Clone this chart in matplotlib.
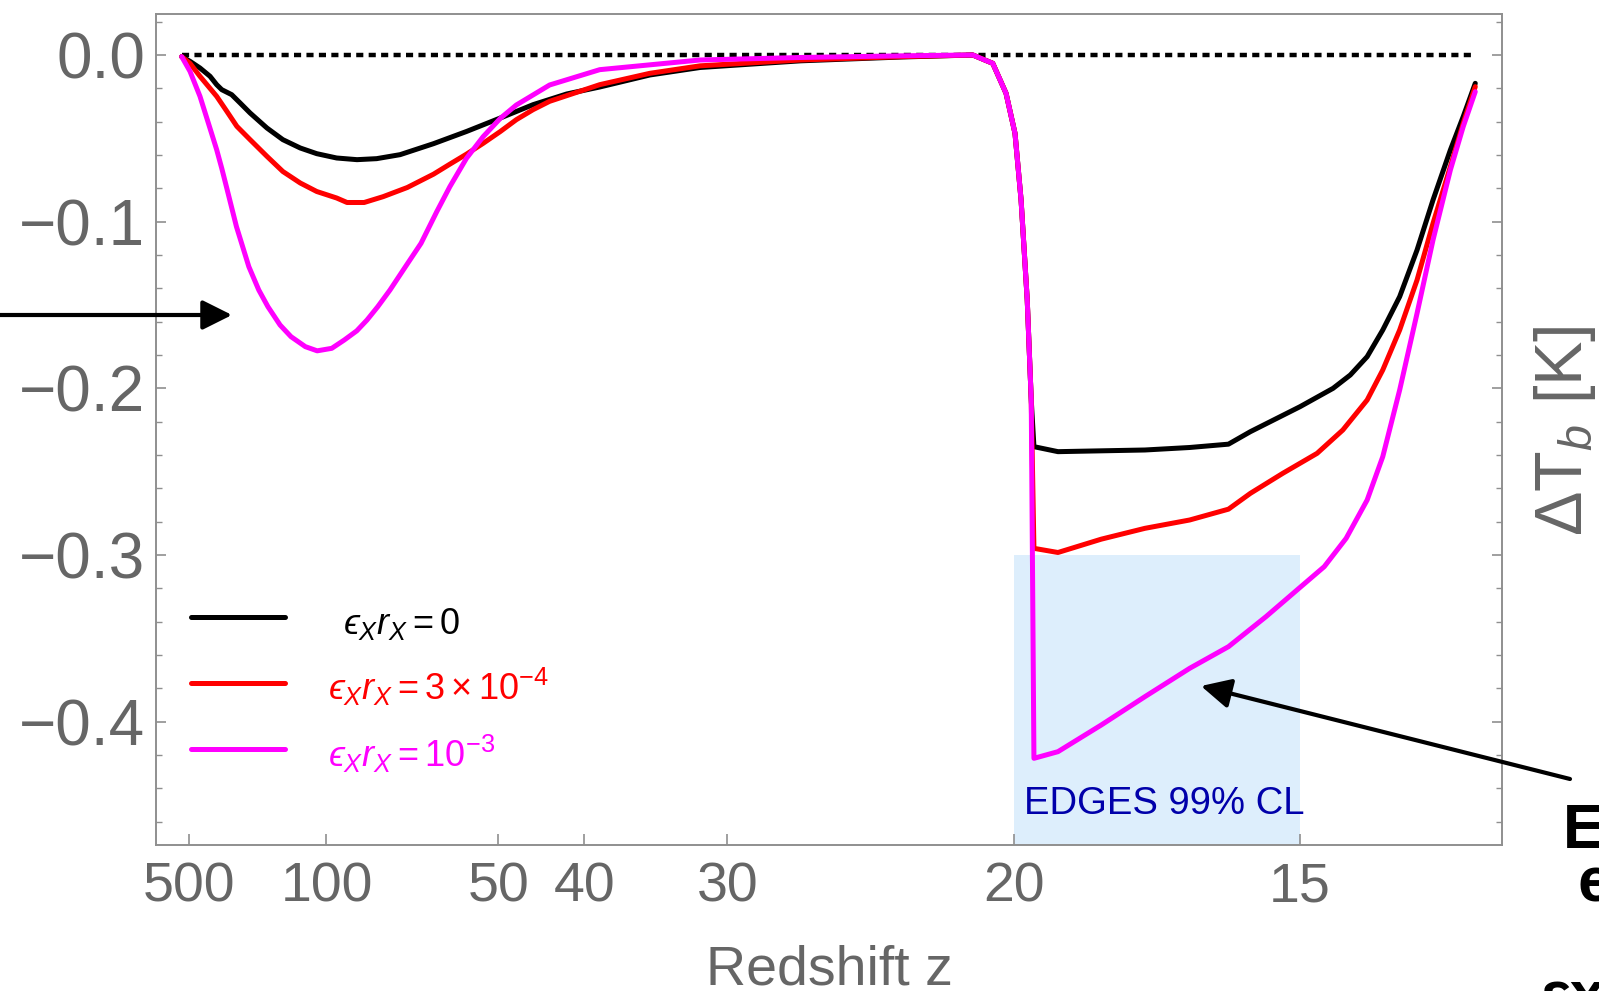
import matplotlib
matplotlib.use("Agg")
import matplotlib.pyplot as plt
import numpy as np
from matplotlib.patches import Rectangle
from matplotlib.ticker import MultipleLocator

plt.rcParams['font.family'] = ['Liberation Sans', 'DejaVu Sans']
plt.rcParams['mathtext.fontset'] = 'custom'
plt.rcParams['mathtext.rm'] = 'Liberation Sans'
plt.rcParams['mathtext.it'] = 'Liberation Sans:italic'
plt.rcParams['mathtext.bf'] = 'Liberation Sans:bold'
plt.rcParams['mathtext.fallback'] = 'stixsans'

# ---- data (redshift z, Delta T_b in K) ----
z_black = [635, 486, 379, 310, 277, 256, 223, 201, 180, 153, 134, 118, 106, 94.4,
           84.9, 77.4, 70.0, 61.6, 55.1, 49.7, 45.4, 41.7, 38.6, 34.7, 31.5, 26.6,
           23.0, 21.0, 20.5, 20.18, 19.97, 19.83, 19.69, 19.6, 19.54, 19.02, 18.15,
           17.35, 16.6, 16.0, 15.68, 15.0, 14.58, 14.37, 14.17, 13.99, 13.80, 13.61,
           13.44, 13.26, 13.13, 13.01]
dT_black = [-0.001, -0.0038, -0.0078, -0.0128, -0.0178, -0.0208, -0.0238, -0.0288,
            -0.0348, -0.0438, -0.0508, -0.0558, -0.0592, -0.0618, -0.0628, -0.0622,
            -0.0598, -0.0532, -0.0459, -0.0378, -0.0298, -0.0234, -0.0192, -0.012,
            -0.0075, -0.0035, -0.0012, 0.0, -0.005, -0.023, -0.047, -0.087, -0.147,
            -0.207, -0.235, -0.238, -0.2375, -0.237, -0.2355, -0.2335, -0.226,
            -0.211, -0.200, -0.192, -0.181, -0.165, -0.145, -0.117, -0.087, -0.057,
            -0.037, -0.017]

z_red = [635, 486, 379, 277, 238, 209, 180, 153, 134, 118, 106, 94.4, 89.3, 82.0,
         75.2, 68.0, 61.6, 58.2, 55.1, 52.3, 49.7, 47.5, 45.4, 43.5, 40.9, 38.6,
         34.7, 31.5, 26.6, 23.0, 21.0, 20.5, 20.18, 19.97, 19.83, 19.69, 19.6, 19.54,
         19.02, 18.15, 17.35, 16.6, 16.0, 15.68, 15.23, 14.78, 14.46, 14.17, 13.99,
         13.80, 13.61, 13.44, 13.26, 13.13, 13.01]
dT_red = [-0.001, -0.005, -0.0128, -0.0248, -0.0338, -0.0428, -0.0508, -0.0608,
          -0.0699, -0.0768, -0.0819, -0.0858, -0.0885, -0.0885, -0.085, -0.0795,
          -0.0715, -0.0655, -0.0595, -0.053, -0.0459, -0.0388, -0.0328, -0.0278,
          -0.0228, -0.0178, -0.011, -0.0065, -0.003, -0.001, 0.0, -0.005, -0.023,
          -0.047, -0.087, -0.147, -0.207, -0.296, -0.2985, -0.2905, -0.284, -0.279,
          -0.2725, -0.263, -0.251, -0.239, -0.225, -0.207, -0.189, -0.165, -0.135,
          -0.101, -0.067, -0.041, -0.019]

z_mag = [635, 486, 379, 320, 277, 256, 238, 210, 182.4, 165, 151.7, 137, 126, 114,
         105.7, 97, 90.6, 85, 80.9, 77, 73.0, 68.5, 64.5, 60.9, 58.2, 55.1, 52.3,
         49.7, 47.5, 43.5, 38.6, 31.5, 26.6, 23.0, 21.0, 20.5, 20.18, 19.97, 19.83,
         19.69, 19.6, 19.54, 19.02, 18.15, 17.35, 16.6, 16.0, 15.46, 15.04, 14.69,
         14.42, 14.17, 13.99, 13.80, 13.61, 13.44, 13.26, 13.13, 13.01]
dT_mag = [-0.001, -0.0098, -0.0248, -0.0408, -0.0568, -0.068, -0.080, -0.103,
          -0.127, -0.141, -0.151, -0.162, -0.169, -0.175, -0.1775, -0.176, -0.171,
          -0.1655, -0.159, -0.151, -0.141, -0.127, -0.113, -0.094, -0.079, -0.062,
          -0.049, -0.038, -0.030, -0.018, -0.0088, -0.003, -0.0015, -0.0005, 0.0,
          -0.005, -0.023, -0.047, -0.087, -0.147, -0.207, -0.422, -0.418, -0.402,
          -0.385, -0.368, -0.355, -0.337, -0.321, -0.307, -0.290, -0.267, -0.241,
          -0.201, -0.155, -0.111, -0.069, -0.043, -0.022]

labels = ["$\\ \\,\u03f5_X r_X=0$",
          "$\u03f5_X r_X=3\\times10^{-4}$",
          "$\u03f5_X r_X=10^{-3}$"]
colors = ["black", "#ff0000", "#ff00ff"]

z_ticks = [500, 100, 50, 40, 30, 20, 15]
z_tick_labels = ["500", "100", "50", "40", "30", "20", "15"]
y_ticks = [0.0, -0.1, -0.2, -0.3, -0.4]
y_tick_labels = ["0.0", "\u22120.1", "\u22120.2", "\u22120.3", "\u22120.4"]

edges_z = [20, 15]
edges_top = -0.3

grey = "#666666"
frame = "#8f8f8f"

fig = plt.figure(figsize=(15.99, 9.91), dpi=100)
ax = fig.add_axes([0.09756, 0.14733, 0.84178, 0.83855])

# x axis is linear in 1/z
ax.add_patch(Rectangle((1 / edges_z[0], -0.6), 1 / edges_z[1] - 1 / edges_z[0],
                       edges_top + 0.6, facecolor="#ddeefc", edgecolor="none", zorder=0))
ax.text(1 / edges_z[0] + 0.0006, -0.4555, "EDGES 99% CL", color="#0000aa",
        fontsize=27.5, va="baseline", ha="left", zorder=1)

ax.plot([1 / z_black[0], 1 / z_black[-1]], [0, 0], color="black", lw=3.2,
        linestyle=(0, (1.6, 1.2)), zorder=2)

lines = []
for z, dT, c in [(z_black, dT_black, colors[0]), (z_red, dT_red, colors[1]),
                 (z_mag, dT_mag, colors[2])]:
    ln, = ax.plot(1 / np.array(z), dT, color=c, lw=3.6, zorder=3,
                  solid_joinstyle="round", solid_capstyle="round")
    lines.append(ln)

ax.set_xlim(0.000079, 0.07842)
ax.set_ylim(-0.474, 0.0246)

ax.set_xticks([1 / z for z in z_ticks])
ax.set_xticklabels(z_tick_labels)
ax.set_yticks(y_ticks)
ax.set_yticklabels(y_tick_labels)
ax.yaxis.set_minor_locator(MultipleLocator(0.02))

ax.tick_params(axis="x", which="both", direction="in", top=False, bottom=True,
               length=8, width=1.2, color=frame, labelsize=40, labelcolor=grey, pad=12)
ax.tick_params(axis="y", which="major", direction="in", left=True, right=True,
               length=7, width=1.2, color=frame, labelsize=46, labelcolor=grey, pad=8)
ax.tick_params(axis="y", which="minor", direction="in", left=True, right=True,
               length=4.5, width=1.0, color=frame)
for s in ax.spines.values():
    s.set_color(frame)
    s.set_linewidth(1.4)

ax.set_xlabel("Redshift z", fontsize=40, color=grey, labelpad=22)

fig.text(1582 / 1599, 1 - 431 / 991, "\u0394T$_b$ [K]", rotation=90,
         rotation_mode="anchor", ha="center", va="baseline", fontsize=48, color=grey)

ax.legend(lines, labels, loc="upper left", bbox_to_anchor=(191 / 1599, 1 - 599 / 991),
          bbox_transform=fig.transFigure, frameon=False, fontsize=26,
          handlelength=2.6, handleheight=1.6, handletextpad=1.2, labelspacing=0.55,
          borderpad=0, borderaxespad=0, labelcolor="linecolor")

arrow = dict(arrowstyle="-|>", lw=3, color="black", mutation_scale=45,
             shrinkA=0, shrinkB=0)
ax.annotate("", xy=(232, 991 - 315), xycoords="figure pixels",
            xytext=(-20, 991 - 315), textcoords="figure pixels",
            arrowprops=arrow, annotation_clip=False)
ax.annotate("", xy=(1201, 991 - 686), xycoords="figure pixels",
            xytext=(1570, 991 - 779), textcoords="figure pixels",
            arrowprops=arrow, annotation_clip=False)

fig.text(1563 / 1599, 1 - 848 / 991, "E", fontsize=45, fontweight="bold",
         ha="left", va="baseline")
fig.text(1578 / 1599, 1 - 902 / 991, "e", fontsize=45, fontweight="bold",
         ha="left", va="baseline")
fig.text(1541 / 1599, 1 - 1015 / 991, "\u03b5x", fontsize=45, fontweight="bold",
         ha="left", va="baseline")

fig.savefig("out.png", dpi=100)
